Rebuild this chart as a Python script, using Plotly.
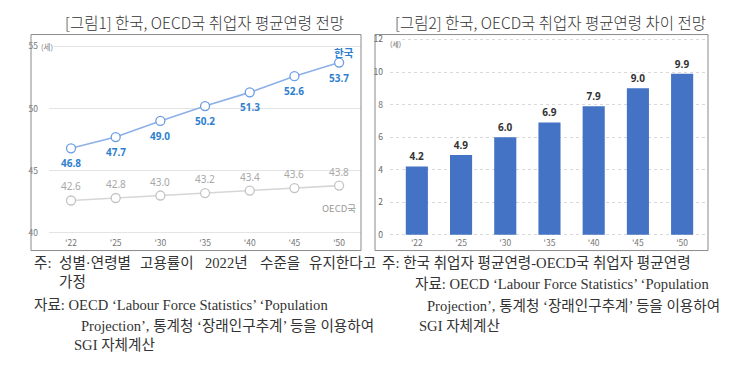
import plotly.graph_objects as go

# ---- data ----
years = ["'22", "'25", "'30", "'35", "'40", "'45", "'50"]
korea = [46.8, 47.7, 49.0, 50.2, 51.3, 52.6, 53.7]
oecd = [42.6, 42.8, 43.0, 43.2, 43.4, 43.6, 43.8]
gap = [4.2, 4.9, 6.0, 6.9, 7.9, 9.0, 9.9]
left_ticks = [40, 45, 50, 55]
right_ticks = [0, 2, 4, 6, 8, 10, 12]

title1 = "[그림1] 한국, OECD국 취업자 평균연령 전망"
title2 = "[그림2] 한국, OECD국 취업자 평균연령 차이 전망"
note1_words = ["주:", "성별·연령별", "고용률이", "2022년", "수준을", "유지한다고"]
note1_cont = "가정"
note2 = "주: 한국 취업자 평균연령-OECD국 취업자 평균연령"
src_lines = ["자료: OECD ‘Labour Force Statistics’ ‘Population",
             "Projection’, 통계청 ‘장래인구추계’ 등을 이용하여",
             "SGI 자체계산"]

W, H = 730, 365
def px(x): return x / W
def py(y): return (H - y) / H

SANS = "Noto Sans CJK KR, Noto Sans, sans-serif"
NOTE = "Liberation Serif, Noto Sans CJK KR, serif"

fig = go.Figure()
fig.add_trace(go.Scatter(
    x=years, y=oecd, mode="lines+markers", xaxis="x", yaxis="y",
    line=dict(color="#d6d6d6", width=1.6),
    marker=dict(size=9, color="white", line=dict(color="#c4c4c4", width=1.3)),
    hoverinfo="skip", showlegend=False))
fig.add_trace(go.Scatter(
    x=years, y=korea, mode="lines+markers", xaxis="x", yaxis="y",
    line=dict(color="#8db0e8", width=1.6),
    marker=dict(size=9, color="white", line=dict(color="#6a9de3", width=1.3)),
    hoverinfo="skip", showlegend=False))
fig.add_trace(go.Bar(
    x=years, y=gap, xaxis="x2", yaxis="y2", width=0.5,
    marker=dict(color="#4472c4", line=dict(width=0)),
    text=[f"{v:.1f}" for v in gap], textposition="outside",
    textfont=dict(family="Noto Sans, sans-serif", size=10, color="#333333", weight="bold"),
    cliponaxis=False, hoverinfo="skip", showlegend=False))

ydom = [py(238), py(33)]
fig.update_layout(
    width=W, height=H, margin=dict(l=0, r=0, t=0, b=0),
    paper_bgcolor="white", plot_bgcolor="white",
    xaxis=dict(domain=[px(49), px(361)], type="category", range=[-0.4925, 6.49],
               showgrid=False, zeroline=False, showline=False, ticks="",
               tickfont=dict(family=SANS, size=8.5, color="#777777"), anchor="y"),
    yaxis=dict(domain=ydom, range=[39.683, 55.952], tickvals=left_ticks,
               showgrid=True, gridcolor="#e4e4e4", gridwidth=1, zeroline=False,
               showline=False, ticks="", ticklabelstandoff=10,
               tickfont=dict(family=SANS, size=8.5, color="#777777"), anchor="x"),
    xaxis2=dict(domain=[px(390), px(706)], type="category", range=[-0.607, 6.54],
                showgrid=False, zeroline=False, showline=False, ticks="",
                tickfont=dict(family=SANS, size=8.5, color="#777777"), anchor="y2"),
    yaxis2=dict(domain=ydom, range=[-0.121, 12.303], tickvals=right_ticks,
                showgrid=True, gridcolor="#d9d9d9", griddash="dot", gridwidth=1,
                zeroline=False, showline=False, ticks="", ticklabelstandoff=6,
                tickfont=dict(family=SANS, size=8.5, color="#666666"), anchor="x2"),
    bargap=0.5,
)

shapes = [
    dict(type="rect", xref="paper", yref="paper", x0=px(31), x1=px(361), y0=py(252), y1=py(33),
         line=dict(color="#8a8a8a", width=1)),
    dict(type="rect", xref="paper", yref="paper", x0=px(375), x1=px(708), y0=py(252), y1=py(33),
         line=dict(color="#8a8a8a", width=1)),
]
fig.update_layout(shapes=shapes)

ann = []
# titles
ann.append(dict(text=title1, x=px(204), y=py(20), xref="paper", yref="paper", showarrow=False,
                xanchor="center", yanchor="middle", font=dict(family=SANS, size=15.5, color="#333333", weight=300)))
ann.append(dict(text=title2, x=px(550), y=py(20), xref="paper", yref="paper", showarrow=False,
                xanchor="center", yanchor="middle", font=dict(family=SANS, size=15.5, color="#333333", weight=300)))
# unit labels
ann.append(dict(text="(세)", x=px(40), y=55, xref="paper", yref="y", showarrow=False,
                xanchor="left", yanchor="middle", bgcolor="white", borderpad=0,
                font=dict(family=SANS, size=7.5, color="#777777")))
ann.append(dict(text="(세)", x=px(389), y=py(43), xref="paper", yref="paper", showarrow=False,
                xanchor="left", yanchor="middle", bgcolor="white", borderpad=0,
                font=dict(family=SANS, size=7, color="#666666")))
# point labels
for c, v in zip(years, korea):
    ann.append(dict(text=f"{v:.1f}", x=c, y=v, xref="x", yref="y", showarrow=False,
                    yshift=-15, font=dict(family="Noto Sans, sans-serif", size=10, color="#2f7fcf", weight="bold")))
for c, v in zip(years, oecd):
    ann.append(dict(text=f"{v:.1f}", x=c, y=v, xref="x", yref="y", showarrow=False,
                    yshift=14, font=dict(family="Noto Sans, sans-serif", size=10, color="#a8a8a8")))
ann.append(dict(text="한국", x=years[-1], y=korea[-1], xref="x", yref="y", showarrow=False,
                yshift=10, xshift=5, font=dict(family=SANS, size=10.5, color="#2f7fcf", weight="bold")))
ann.append(dict(text="OECD국", x=years[-1], y=oecd[-1], xref="x", yref="y", showarrow=False,
                yshift=-22, font=dict(family=SANS, size=9.5, color="#999999")))

# notes
note_font = dict(family=NOTE, size=14.6, color="#333333")
note1_x = [32, 57, 138, 203, 258, 307]
for w, xx in zip(note1_words, note1_x):
    ann.append(dict(text=w, x=px(xx), y=py(265), xref="paper", yref="paper", showarrow=False,
                    xanchor="left", yanchor="middle", font=note_font))
ann.append(dict(text=note1_cont, x=px(57), y=py(284), xref="paper", yref="paper", showarrow=False,
                xanchor="left", yanchor="middle", font=note_font))
for t, xx, yy in zip(src_lines, [32, 79, 72], [307, 328, 348]):
    ann.append(dict(text=t, x=px(xx), y=py(yy), xref="paper", yref="paper", showarrow=False,
                    xanchor="left", yanchor="middle", font=note_font))
ann.append(dict(text=note2, x=px(380), y=py(265), xref="paper", yref="paper", showarrow=False,
                xanchor="left", yanchor="middle", font=note_font))
for t, xx, yy in zip(src_lines, [413, 425, 417], [286, 308, 328]):
    ann.append(dict(text=t, x=px(xx), y=py(yy), xref="paper", yref="paper", showarrow=False,
                    xanchor="left", yanchor="middle", font=note_font))

fig.update_layout(annotations=ann)
fig.write_html("out.html", config={"displayModeBar": False},
               post_script="document.body.style.margin='0';")
